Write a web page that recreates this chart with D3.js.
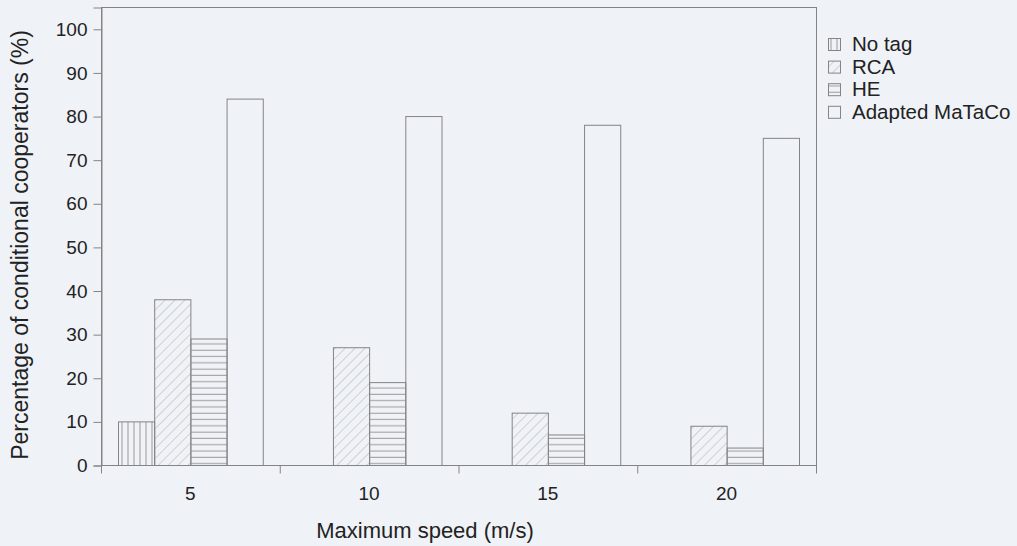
<!DOCTYPE html>
<html>
<head>
<meta charset="utf-8">
<script src="https://cdn.jsdelivr.net/npm/d3@7"></script>
<style>
  html, body { margin: 0; padding: 0; background: #eff2f7; }
  svg { display: block; font-family: "Liberation Sans", Arial, sans-serif; }
  svg text { font-family: "Liberation Sans", Arial, sans-serif; }
</style>
</head>
<body>
<svg id="chart" width="1017" height="546"></svg>
<script>
// Grouped bar data: share of conditional cooperators per tagging scheme
const speeds = ["5", "10", "15", "20"];
const seriesNames = ["No tag", "RCA", "HE", "Adapted MaTaCo"];
const noTag   = [10, 0, 0, 0];
const rca     = [38, 27, 12, 9];
const he      = [29, 19, 7, 4];
const adapted = [84, 80, 78, 75];
const yTicks  = [0, 10, 20, 30, 40, 50, 60, 70, 80, 90, 100];

const seriesValues = [noTag, rca, he, adapted];
const patternIds = ["pat-vert", "pat-diag", "pat-horiz", null];

const svg = d3.select("#chart");
const W = 1017, H = 546;
const m = { left: 101, right: 201, top: 7, bottom: 81 };
const plotW = W - m.left - m.right;
const plotH = H - m.top - m.bottom;

const lineCol = "#848484";
const patCol = "#9a9a9a";
const textCol = "#222";
const font = "'Liberation Sans', Arial, sans-serif";

// Fill patterns
const defs = svg.append("defs");
const pv = defs.append("pattern").attr("id", "pat-vert")
  .attr("patternUnits", "userSpaceOnUse").attr("width", 6).attr("height", 6);
pv.append("line").attr("x1", 3).attr("y1", 0).attr("x2", 3).attr("y2", 6)
  .attr("stroke", patCol).attr("stroke-width", 1);
const ph = defs.append("pattern").attr("id", "pat-horiz")
  .attr("patternUnits", "userSpaceOnUse").attr("width", 6).attr("height", 6.3);
ph.append("line").attr("x1", 0).attr("y1", 3).attr("x2", 6).attr("y2", 3)
  .attr("stroke", patCol).attr("stroke-width", 1);
const pd = defs.append("pattern").attr("id", "pat-diag")
  .attr("patternUnits", "userSpaceOnUse").attr("width", 7).attr("height", 7)
  .attr("patternTransform", "rotate(45)");
pd.append("line").attr("x1", 0).attr("y1", 0).attr("x2", 0).attr("y2", 7)
  .attr("stroke", "#b0b0b0").attr("stroke-width", 1);

const g = svg.append("g").attr("transform", `translate(${m.left},${m.top})`);

const x0 = d3.scaleBand().domain(speeds).range([0, plotW]).padding(0);
const x1 = d3.scaleBand().domain(seriesNames).range([17, x0.bandwidth() - 17]).padding(0);
const y = d3.scaleLinear().domain([0, 105]).range([plotH, 0]);

// Bars
speeds.forEach((s, i) => {
  const grp = g.append("g").attr("transform", `translate(${x0(s)},0)`);
  seriesNames.forEach((name, k) => {
    const v = seriesValues[k][i];
    if (v <= 0) return;
    grp.append("rect")
      .attr("x", x1(name) + 0.5)
      .attr("y", y(v) + 0.5)
      .attr("width", x1.bandwidth())
      .attr("height", plotH - y(v))
      .attr("fill", patternIds[k] ? `url(#${patternIds[k]})` : "none")
      .attr("stroke", lineCol).attr("stroke-width", 1);
  });
});

// Frame
g.append("rect").attr("x", 0.5).attr("y", 0.5).attr("width", plotW).attr("height", plotH)
  .attr("fill", "none").attr("stroke", lineCol).attr("stroke-width", 1);

// Y axis
const yAxis = g.append("g").attr("transform", "translate(0.5,0.5)")
  .call(d3.axisLeft(y).tickValues(yTicks).tickSize(8).tickPadding(6));
yAxis.attr("font-family", null).attr("font-size", null);
yAxis.select(".domain").attr("stroke", lineCol);
yAxis.selectAll(".tick line").attr("stroke", lineCol);
yAxis.selectAll(".tick text").attr("fill", textCol).style("font-size", "19px")
  .style("font-family", font);

// X axis: ticks at group boundaries, labels at group centres
const xAxisG = g.append("g").attr("transform", `translate(0,${plotH})`);
const boundaries = speeds.map(s => x0(s)).concat([plotW]);
xAxisG.selectAll("line.tk").data(boundaries).join("line")
  .attr("x1", d => d + 0.5).attr("x2", d => d + 0.5)
  .attr("y1", 0.5).attr("y2", 8.5)
  .attr("stroke", lineCol);
xAxisG.selectAll("text").data(speeds).join("text")
  .attr("x", d => x0(d) + x0.bandwidth() / 2)
  .attr("y", 35)
  .attr("text-anchor", "middle")
  .attr("fill", textCol)
  .style("font-size", "19px")
  .style("font-family", font)
  .text(d => d);

// Axis titles
svg.append("text")
  .attr("x", 425)
  .attr("y", 538)
  .attr("text-anchor", "middle")
  .attr("fill", textCol)
  .style("font-size", "22px")
  .style("font-family", font)
  .text("Maximum speed (m/s)");
svg.append("text")
  .attr("transform", `translate(28,245) rotate(-90)`)
  .attr("text-anchor", "middle")
  .attr("fill", textCol)
  .style("font-size", "23px")
  .style("font-family", font)
  .text("Percentage of conditional cooperators (%)");

// Legend
const leg = svg.append("g").attr("transform", "translate(828,44)");
seriesNames.forEach((name, k) => {
  const row = leg.append("g").attr("transform", `translate(0,${k * 22.6})`);
  row.append("rect").attr("x", 0.5).attr("y", -5.5).attr("width", 12).attr("height", 12)
    .attr("fill", patternIds[k] ? `url(#${patternIds[k]})` : "none")
    .attr("stroke", lineCol);
  row.append("text").attr("x", 24).attr("y", 0).attr("dy", "0.35em")
    .attr("fill", textCol).style("font-size", "20.5px").style("font-family", font).text(name);
});
</script>
</body>
</html>
